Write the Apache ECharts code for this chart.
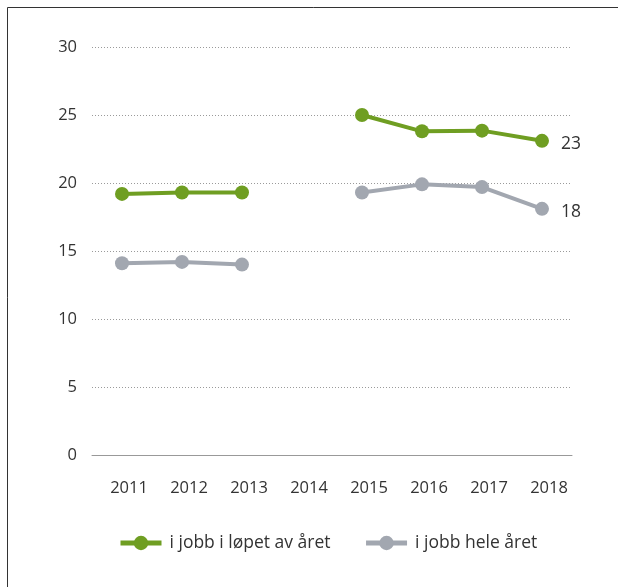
<!DOCTYPE html>
<html>
<head>
<meta charset="utf-8">
<style>
  html, body { margin: 0; padding: 0; background: #fff; }
  #chart { width: 618px; height: 587px; }
</style>
<script src="https://cdn.jsdelivr.net/npm/echarts@6/dist/echarts.min.js"></script>
</head>
<body>
<div id="chart"></div>
<script>
// Share of people in work, by year (2014 has no data)
var years = ['2011', '2012', '2013', '2014', '2015', '2016', '2017', '2018'];
var duringYear = [19.2, 19.3, 19.3, null, 25.0, 23.8, 23.85, 23.1];
var wholeYear = [14.1, 14.2, 14.0, null, 19.3, 19.9, 19.7, 18.1];
var yTicks = [0, 5, 10, 15, 20, 25, 30];
var seriesNames = ['i jobb i løpet av året', 'i jobb hele året'];

var GREEN = '#6f9e22';
var GREY = '#a2a7b0';
var FONT = '"Open Sans", "Noto Sans", sans-serif';
var TEXT = '#333';

function endLabel(values) {
  var last = values.length - 1;
  return values.map(function (v, i) {
    if (i !== last) return v;
    return {
      value: v,
      label: {
        show: true,
        position: 'right',
        distance: 12,
        offset: [0, 3],
        color: TEXT,
        fontSize: 17.5,
        fontFamily: FONT,
        formatter: function (p) { return Math.round(p.value); }
      }
    };
  });
}

function lineSeries(name, color, values) {
  return {
    name: name,
    type: 'line',
    data: endLabel(values),
    connectNulls: false,
    symbol: 'circle',
    symbolSize: 14,
    lineStyle: { color: color, width: 4 },
    itemStyle: { color: color },
    emphasis: { disabled: true },
    animation: false
  };
}

var chart = echarts.init(document.getElementById('chart'), null, { renderer: 'canvas' });
chart.setOption({
  backgroundColor: '#fff',
  graphic: [{
    type: 'rect',
    shape: { x: 7.5, y: 7.5, width: 700, height: 700 },
    style: { fill: 'none', stroke: '#333', lineWidth: 1 },
    silent: true
  }],
  grid: { left: 92, right: 46, top: 47, bottom: 132, containLabel: false },
  legend: {
    data: seriesNames,
    left: 113,
    top: 529,
    itemWidth: 41,
    itemHeight: 18,
    itemGap: 33,
    lineStyle: { width: 5 },
    textStyle: { color: TEXT, fontSize: 17.5, fontFamily: FONT, padding: [0, 0, 0, 3] },
    selectedMode: false
  },
  xAxis: {
    type: 'category',
    data: years,
    boundaryGap: true,
    axisLine: { show: true, lineStyle: { color: '#999', width: 1 } },
    axisTick: { show: false },
    axisLabel: { color: TEXT, fontSize: 16.5, fontFamily: FONT, margin: 25, padding: [0, 0, 0, 14] },
    splitLine: { show: false }
  },
  yAxis: {
    type: 'value',
    min: yTicks[0],
    max: yTicks[yTicks.length - 1],
    interval: 5,
    axisLine: { show: false },
    axisTick: { show: false },
    axisLabel: { color: TEXT, fontSize: 16.5, fontFamily: FONT, margin: 15 },
    splitLine: { show: true, lineStyle: { color: '#9a9a9a', type: [1, 2], width: 1 } }
  },
  series: [
    lineSeries(seriesNames[0], GREEN, duringYear),
    lineSeries(seriesNames[1], GREY, wholeYear)
  ]
});
</script>
</body>
</html>
